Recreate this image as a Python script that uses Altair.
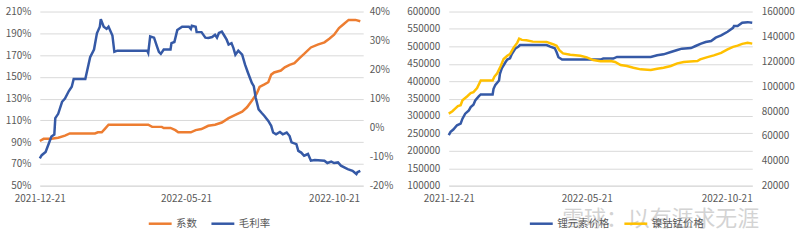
import altair as alt
import pandas as pd

# ---------------- Left panel data ----------------
coef_dates = ["2021-12-21","2021-12-25","2022-01-02","2022-01-09","2022-01-16","2022-01-21","2022-02-16","2022-02-19",
              "2022-02-23","2022-02-26","2022-03-02","2022-04-12","2022-04-16","2022-04-26","2022-04-28","2022-05-05",
              "2022-05-10","2022-05-13","2022-05-26","2022-05-31","2022-06-06","2022-06-13","2022-06-20","2022-06-27",
              "2022-07-04","2022-07-11","2022-07-18","2022-07-23","2022-07-28","2022-08-02","2022-08-05","2022-08-10",
              "2022-08-14","2022-08-17","2022-08-20","2022-08-27","2022-08-31","2022-09-05","2022-09-10","2022-09-15",
              "2022-09-20","2022-09-27","2022-10-04","2022-10-11","2022-10-16","2022-10-21","2022-10-26","2022-10-31",
              "2022-11-05","2022-11-12","2022-11-17"]
coef_values = [91,93,93,94,96,98,98,99,99,102,106,106,104,104,103,103,101,99,99,101,
               102,105,106,108,112,115,118,122,128,134.5,140.7,143,145,152,154,155.8,158.7,161,162.6,167,
               171,177,179.6,181.7,185,188.7,194.8,198.5,202.3,202.3,201]

margin_dates = ["2021-12-21","2021-12-23","2021-12-27","2021-12-30","2022-01-02","2022-01-05","2022-01-06","2022-01-09",
                "2022-01-13","2022-01-16","2022-01-20","2022-01-23","2022-01-25","2022-02-06","2022-02-08","2022-02-11",
                "2022-02-15","2022-02-18","2022-02-21","2022-02-22","2022-02-25","2022-02-28","2022-03-02","2022-03-06",
                "2022-03-08","2022-03-11","2022-04-11","2022-04-12","2022-04-14","2022-04-18","2022-04-21","2022-04-23",
                "2022-04-25","2022-04-28","2022-05-05","2022-05-06","2022-05-09","2022-05-12","2022-05-17","2022-05-24",
                "2022-05-26","2022-05-27","2022-05-31","2022-06-01","2022-06-06","2022-06-10","2022-06-13","2022-06-17",
                "2022-06-20","2022-06-22","2022-06-24","2022-06-27","2022-06-29","2022-07-02","2022-07-04","2022-07-07",
                "2022-07-09","2022-07-11","2022-07-14","2022-07-18","2022-07-21","2022-07-24","2022-07-28","2022-07-30",
                "2022-08-01","2022-08-04","2022-08-07","2022-08-10","2022-08-14","2022-08-17","2022-08-19","2022-08-22",
                "2022-08-26","2022-08-29","2022-09-02","2022-09-05","2022-09-07","2022-09-12","2022-09-14","2022-09-17",
                "2022-09-20","2022-09-24","2022-09-27","2022-10-01","2022-10-11","2022-10-14","2022-10-18","2022-10-21",
                "2022-10-25","2022-10-28","2022-11-04","2022-11-09","2022-11-13","2022-11-14","2022-11-17"]
margin_values = [-10.6,-9.5,-8.4,-5.75,-3.1,-2.4,3.25,4.75,8.9,10,12.6,14.1,16.75,16.75,19.75,24.25,
                 26.9,32.5,34.75,37.4,34.75,34,34.75,31.75,26.1,26.5,26.5,25.75,31.4,31,28,26.1,
                 25.4,26.9,26.9,29.1,29.5,33.6,34.75,34.75,34,35.1,34.75,32.9,32.9,31,30.9,31.2,
                 32,31,32.6,33.1,32,30.3,28.6,29.1,27.4,25.1,26.5,25.1,21.7,18.9,15.4,14.3,
                 10.3,6.3,5.1,4,2.3,0.6,-1.7,-2.3,-1.5,-2.3,-1.7,-2.9,-5.1,-5.7,-8,-8.6,
                 -9.7,-9.1,-11.4,-11.2,-11.4,-12.2,-11.7,-12.2,-12,-13.1,-14.3,-14.9,-16,-15.4,-14.9]

# ---------------- Right panel data ----------------
li_dates = ["2021-12-21","2021-12-23","2021-12-26","2021-12-30","2022-01-03","2022-01-05","2022-01-08","2022-01-12",
            "2022-01-14","2022-01-17","2022-01-19","2022-01-23","2022-01-25","2022-02-07","2022-02-08","2022-02-10",
            "2022-02-14","2022-02-15","2022-02-17","2022-02-21","2022-02-23","2022-02-26","2022-02-28","2022-03-04",
            "2022-03-07","2022-03-09","2022-04-07","2022-04-11","2022-04-16","2022-04-18","2022-04-20","2022-04-24",
            "2022-06-05","2022-06-08","2022-06-19","2022-06-23","2022-07-30","2022-08-06","2022-08-13","2022-08-21",
            "2022-08-28","2022-09-02","2022-09-12","2022-09-17","2022-09-23","2022-09-28","2022-10-04","2022-10-09",
            "2022-10-15","2022-10-22","2022-10-28","2022-10-29","2022-11-02","2022-11-07","2022-11-13","2022-11-18"]
li_values = [245000,254500,261000,273300,278000,292400,306700,316200,325700,332400,344800,357100,361900,361900,
             378100,389500,401900,421000,437100,454300,462000,465700,478100,494300,499000,503800,503800,499000,
             494300,482900,468600,462000,462000,464800,464800,469500,469500,474300,477100,483800,489500,493300,
             495200,501000,507600,512400,515200,524800,531400,541900,553300,558100,558100,567600,569500,567600]

ncm_dates = ["2021-12-21","2021-12-25","2021-12-28","2021-12-31","2022-01-03","2022-01-05","2022-01-10","2022-01-14",
             "2022-01-17","2022-01-21","2022-01-25","2022-02-07","2022-02-09","2022-02-12","2022-02-16","2022-02-19",
             "2022-02-23","2022-02-26","2022-03-02","2022-03-06","2022-03-08","2022-03-11","2022-03-16","2022-03-23",
             "2022-04-07","2022-04-14","2022-04-18","2022-04-21","2022-04-25","2022-05-03","2022-05-14","2022-05-21",
             "2022-05-28","2022-06-05","2022-06-16","2022-06-21","2022-06-27","2022-07-04","2022-07-11","2022-07-19",
             "2022-07-30","2022-08-06","2022-08-13","2022-08-21","2022-08-28","2022-09-04","2022-09-11","2022-09-19",
             "2022-09-22","2022-09-30","2022-10-07","2022-10-15","2022-10-22","2022-10-28","2022-11-02","2022-11-07",
             "2022-11-13","2022-11-18"]
ncm_values = [77900,79800,81900,84000,84600,88600,91700,94400,95200,98400,104500,104500,107700,110300,116400,
              121800,124400,125700,131000,135000,138200,137200,136900,135800,135600,133700,132400,128900,126300,
              125200,124400,123100,121000,120000,120200,119400,117000,116200,114800,113500,113000,114000,114800,
              116200,118300,119400,119900,120200,121500,123300,124700,126800,129500,131600,132600,134000,134800,134200]

left_names = ["系数", "毛利率"]
right_names = ["锂元素价格", "镍钴锰价格"]
x_ticks = [(2021, 12, 21), (2022, 5, 21), (2022, 10, 21)]
watermark = "雪球：以有涯求无涯"

ORANGE = "#ED7D31"
BLUE = "#3559A6"
GOLD = "#FFC000"
GRAY = "#595959"
GRID = "#D9D9D9"
FONT = "Noto Sans CJK SC"


def frame(dates, values, name):
    return pd.DataFrame({"date": dates, "value": values, "series": name})


def xenc(end_day):
    return alt.X(
        "date:T", title=None,
        scale=alt.Scale(type="utc", domain=[alt.DateTime(year=2021, month=12, date=21, utc=True),
                                            alt.DateTime(year=2022, month=11, date=end_day, utc=True)]),
        axis=alt.Axis(values=[alt.DateTime(year=y, month=m, date=d, utc=True) for y, m, d in x_ticks],
                      labelExpr="utcFormat(datum.value, '%Y-%m-%d')", grid=False, ticks=False,
                      domainColor=GRID, labelPadding=8, labelFlush=False, labelOverlap=False),
    )


def yenc(lo, hi, step, orient, grid, pct, pad):
    return alt.Y(
        "value:Q", title=None,
        scale=alt.Scale(domain=[lo, hi], nice=False, zero=False),
        axis=alt.Axis(values=list(range(lo, hi + 1, step)), orient=orient, grid=grid, gridColor=GRID,
                      domain=False, ticks=False, labelPadding=pad,
                      labelExpr=("datum.value + '%'" if pct else "'' + datum.value")),
    )


def cenc(names, colors, lx):
    return alt.Color(
        "series:N",
        scale=alt.Scale(domain=names, range=colors),
        legend=alt.Legend(title=None, orient="none", legendX=lx, legendY=200, direction="horizontal",
                          symbolType="stroke", symbolSize=529, symbolStrokeWidth=2.5, labelOffset=3,
                          columnPadding=9, labelFontSize=10.5, labelColor=GRAY, labelFont=FONT),
    )


lc = [ORANGE, BLUE]
left_a = alt.Chart(frame(coef_dates, coef_values, left_names[0])).mark_line(strokeWidth=2.5).encode(
    x=xenc(20), y=yenc(50, 210, 20, "left", True, True, 9), color=cenc(left_names, lc, 108))
left_b = alt.Chart(frame(margin_dates, margin_values, left_names[1])).mark_line(strokeWidth=2.5).encode(
    x=xenc(20), y=yenc(-20, 40, 10, "right", False, True, 6), color=cenc(left_names, lc, 108))
left = alt.layer(left_a, left_b).resolve_scale(y="independent").properties(width=325, height=175)

rc = [BLUE, GOLD]
right_a = alt.Chart(frame(li_dates, li_values, right_names[0])).mark_line(strokeWidth=2.5).encode(
    x=xenc(18), y=yenc(100000, 600000, 50000, "left", True, False, 9), color=cenc(right_names, rc, 80))
right_b = alt.Chart(frame(ncm_dates, ncm_values, right_names[1])).mark_line(strokeWidth=2.5).encode(
    x=xenc(18), y=yenc(20000, 160000, 20000, "right", False, False, 9), color=cenc(right_names, rc, 80))
wm = alt.Chart(pd.DataFrame({"t": [watermark]})).mark_text(
    align="left", baseline="middle", fontSize=22, font=FONT, color="#A8A8A8", opacity=0.5
).encode(x=alt.value(114), y=alt.value(209), text="t:N")
right = alt.layer(right_a, right_b, wm).resolve_scale(y="independent").properties(width=305, height=175)

chart = alt.hconcat(left, right, spacing=13).resolve_scale(
    x="independent", y="independent", color="independent"
).configure(
    padding={"left": 5, "top": 6, "right": 5, "bottom": 0}, background="white"
).configure_view(stroke=None).configure_axis(
    labelFont=FONT, labelFontSize=10, labelColor=GRAY
)

chart.save("out.html", embed_options={"renderer": "svg", "actions": False})
